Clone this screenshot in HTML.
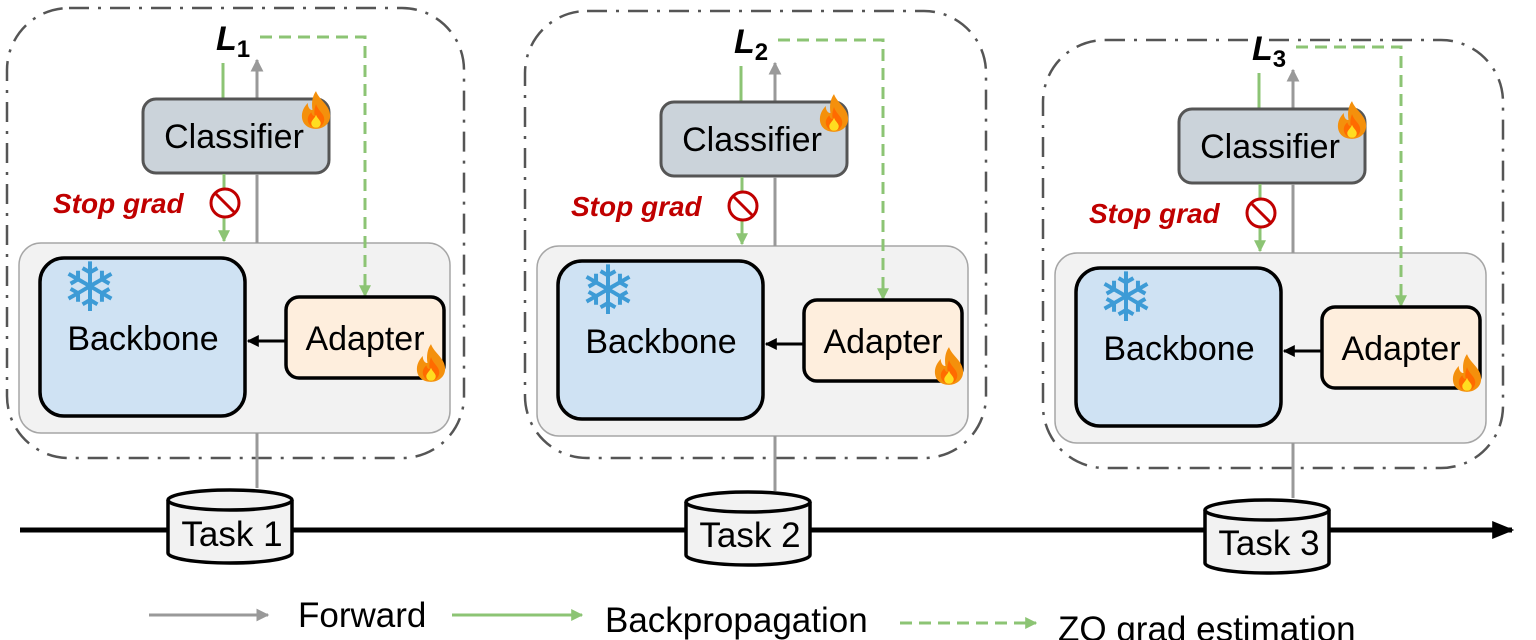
<!DOCTYPE html>
<html><head><meta charset="utf-8"><style>
html,body{margin:0;padding:0;background:#fff;}
svg{display:block;}
text{font-family:"Liberation Sans","DejaVu Sans",sans-serif;}
</style></head><body>
<svg width="1536" height="640" viewBox="0 0 1536 640" xmlns="http://www.w3.org/2000/svg">
<defs>
<marker id="agr" viewBox="0 0 10 10" markerWidth="12" markerHeight="12" refX="9" refY="5" orient="auto" markerUnits="userSpaceOnUse"><path d="M0,0 L10,5 L0,10 z" fill="#8cc474"/></marker>
<marker id="agy" viewBox="0 0 10 10" markerWidth="13" markerHeight="13" refX="9" refY="5" orient="auto" markerUnits="userSpaceOnUse"><path d="M0,0 L10,5 L0,10 z" fill="#999"/></marker>
<marker id="ab" viewBox="0 0 10 10" markerWidth="12" markerHeight="12" refX="9" refY="5" orient="auto" markerUnits="userSpaceOnUse"><path d="M0,0 L10,5 L0,10 z" fill="#000"/></marker>
<marker id="abig" viewBox="0 0 10 10" markerWidth="22" markerHeight="18" refX="9" refY="5" orient="auto" markerUnits="userSpaceOnUse" preserveAspectRatio="none"><path d="M0,0 L10,5 L0,10 z" fill="#000"/></marker>
<symbol id="fire" viewBox="0 0 30 34">
<path d="M15,1 C18,9 27,13 27,22 C27,29 21,33 15,33 C8,33 3,29 3,22 C3,17 6,13 8,11 C8,15 10,17 12,17 C11,11 12,5 15,1 z" fill="#f4900c"/>
<path d="M15,12 C17,18 22,20 22,25 C22,29 19,32 15,32 C11,32 8,29 8,25 C8,22 10,20 11,19 C12,22 13,22 14,22 C13,18 14,15 15,12 z" fill="#ff6b00"/>
<path d="M15,21 C16,24 19,26 19,28 C19,31 17,32 15,32 C13,32 11,31 11,28 C11,26 14,24 15,21 z" fill="#ffdd20"/>
</symbol>
<g id="panel">
  <rect x="19" y="243" width="431" height="190" rx="22" fill="#f2f2f2" stroke="#a6a6a6" stroke-width="1.5"/>
  <line x1="223" y1="63" x2="223" y2="99" stroke="#8cc474" stroke-width="3"/>
  <line x1="257" y1="99" x2="257" y2="60" stroke="#999" stroke-width="3" marker-end="url(#agy)"/>
  <polyline points="260,37 365,37 365,296" fill="none" stroke="#8cc474" stroke-width="3" stroke-dasharray="12,7" marker-end="url(#agr)"/>
  <rect x="143" y="99" width="186" height="74" rx="13" fill="#cbd3da" stroke="#555" stroke-width="3"/>
  <text x="234" y="148" font-size="34" text-anchor="middle" fill="#000">Classifier</text>
  <use href="#fire" x="298" y="90" width="36" height="40"/>
  <line x1="224" y1="174" x2="224" y2="241" stroke="#8cc474" stroke-width="3" marker-end="url(#agr)"/>
  <line x1="257" y1="174" x2="257" y2="243" stroke="#999" stroke-width="3"/>
  <text x="53" y="213" font-size="28" font-weight="bold" font-style="italic" fill="#c00000">Stop grad</text>
  <circle cx="225" cy="203" r="14" fill="#fff" stroke="#c00000" stroke-width="3"/>
  <line x1="215" y1="193" x2="235" y2="213" stroke="#c00000" stroke-width="3"/>
  <rect x="40" y="258" width="205" height="158" rx="24" fill="#cfe2f3" stroke="#000" stroke-width="3.5"/>
  <text x="143" y="350" font-size="34" text-anchor="middle" fill="#000">Backbone</text>
  <text x="90" y="311" font-size="68" text-anchor="middle" fill="#3d9bd6" font-family="DejaVu Sans, sans-serif">❄</text>
  <rect x="286" y="297" width="158" height="81" rx="13" fill="#feeedd" stroke="#000" stroke-width="3.5"/>
  <text x="365" y="350" font-size="34" text-anchor="middle" fill="#000">Adapter</text>
  <use href="#fire" x="413" y="343" width="36" height="40"/>
  <line x1="286" y1="341" x2="248" y2="341" stroke="#000" stroke-width="3" marker-end="url(#ab)"/>
  <line x1="257" y1="433" x2="257" y2="488" stroke="#999" stroke-width="3"/>
</g>
</defs>

<rect x="7" y="8" width="457" height="450" rx="62" fill="none" stroke="#555" stroke-width="2.5" stroke-dasharray="20,9,3,9"/>
<rect x="525" y="11" width="461" height="447" rx="62" fill="none" stroke="#555" stroke-width="2.5" stroke-dasharray="20,9,3,9"/>
<rect x="1043" y="40" width="460" height="428" rx="62" fill="none" stroke="#555" stroke-width="2.5" stroke-dasharray="20,9,3,9"/>

<use href="#panel"/>
<use href="#panel" x="518" y="3"/>
<use href="#panel" x="1036" y="10"/>

<text x="216" y="50" font-size="34" font-weight="bold" font-style="italic" font-family="Liberation Serif, serif">L<tspan font-size="24" dy="7" font-style="normal">1</tspan></text>
<text x="734" y="53" font-size="34" font-weight="bold" font-style="italic" font-family="Liberation Serif, serif">L<tspan font-size="24" dy="7" font-style="normal">2</tspan></text>
<text x="1252" y="60" font-size="34" font-weight="bold" font-style="italic" font-family="Liberation Serif, serif">L<tspan font-size="24" dy="7" font-style="normal">3</tspan></text>

<line x1="20" y1="530" x2="1512" y2="530" stroke="#000" stroke-width="5" marker-end="url(#abig)"/>

<g stroke="#000" stroke-width="3.5" fill="#f2f2f2">
  <path d="M168,500 L168,553 A62,10 0 0 0 292,553 L292,500"/>
  <ellipse cx="230" cy="500" rx="62" ry="10"/>
  <path d="M686,502 L686,555 A62,10 0 0 0 810,555 L810,502"/>
  <ellipse cx="748" cy="502" rx="62" ry="10"/>
  <path d="M1205,510 L1205,563 A62,10 0 0 0 1329,563 L1329,510"/>
  <ellipse cx="1267" cy="510" rx="62" ry="10"/>
</g>
<text x="232" y="546" font-size="35" text-anchor="middle">Task 1</text>
<text x="750" y="547" font-size="35" text-anchor="middle">Task 2</text>
<text x="1269" y="555" font-size="35" text-anchor="middle">Task 3</text>

<line x1="149" y1="615" x2="268" y2="615" stroke="#999" stroke-width="3" marker-end="url(#agy)"/>
<text x="298" y="627" font-size="35">Forward</text>
<line x1="452" y1="615" x2="582" y2="615" stroke="#8cc474" stroke-width="3" marker-end="url(#agr)"/>
<text x="605" y="632" font-size="35">Backpropagation</text>
<line x1="900" y1="623" x2="1036" y2="623" stroke="#8cc474" stroke-width="3" stroke-dasharray="12,7" marker-end="url(#agr)"/>
<text x="1058" y="641" font-size="35">ZO grad estimation</text>
</svg>
</body></html>
